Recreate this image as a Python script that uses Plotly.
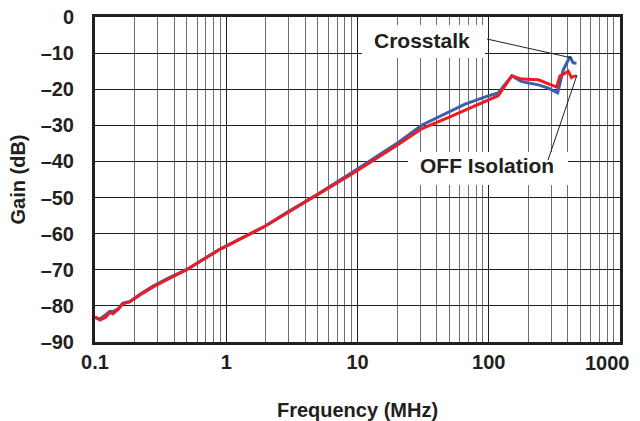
import numpy as np
import plotly.graph_objects as go

# ---- data ----
freq_red = [0.1, 0.109, 0.12, 0.13, 0.137, 0.15, 0.163, 0.184, 0.22, 0.275, 0.35, 0.5,
            0.89, 1.95, 2.93, 4.95, 9.13, 20.7, 31, 49.5, 66, 94, 118, 150, 178, 239,
            284, 329, 349, 369, 403, 427, 440, 466]
gain_red = [-83.0, -83.9, -83.2, -81.8, -82.2, -81.0, -79.4, -78.9, -77.0, -74.8, -72.8, -70.0,
            -64.4, -58.1, -54.2, -49.3, -43.4, -35.2, -30.9, -27.8, -25.8, -23.4, -21.8, -16.3,
            -17.2, -17.4, -18.4, -19.4, -16.3, -15.9, -15.0, -16.8, -16.5, -16.3]

freq_blue = [0.1, 0.109, 0.12, 0.13, 0.137, 0.15, 0.163, 0.184, 0.22, 0.275, 0.35, 0.5,
             0.89, 1.95, 2.93, 4.95, 9.13, 20.7, 31, 49.5, 66, 94, 118, 150, 178, 239,
             284, 335, 369, 415, 440, 466]
gain_blue = [-83.3, -83.6, -82.5, -81.5, -81.6, -80.8, -79.2, -78.8, -76.8, -74.6, -72.6, -69.9,
             -64.3, -58.0, -54.0, -49.1, -43.0, -34.6, -29.9, -26.2, -24.1, -22.1, -21.0, -16.3,
             -17.9, -18.8, -19.7, -21.0, -14.7, -11.0, -12.7, -12.8]

x_major = [0.1, 1, 10, 100, 1000]
x_major_text = ["0.1", "1", "10", "100", ""]   # last label drawn inset (see annotation)
x_last_label = "1000"
x_minor = [m * d for d in [0.1, 1, 10, 100] for m in range(2, 10)]
y_ticks = list(range(-90, 1, 10))
y_text = [("\u2013" + str(-v)) if v < 0 else "0" for v in y_ticks]

FONT = "Liberation Sans, Arial, sans-serif"
TXT = "#231f20"

fig = go.Figure()
fig.add_trace(go.Scatter(x=freq_blue, y=gain_blue, mode="lines",
                         line=dict(color="#3a5fab", width=3), name="Crosstalk"))
fig.add_trace(go.Scatter(x=freq_red, y=gain_red, mode="lines",
                         line=dict(color="#ec1c24", width=3), name="OFF Isolation"))

# plot-area pixel helpers for annotation placement
L, R, T, B = 95, 620, 17, 342
def px(x): return (x - L) / (R - L)
def py(y): return (B - y) / (B - T)

shapes = []
# white boxes behind labels (cover grid lines)
shapes.append(dict(type="rect", xref="paper", yref="paper", layer="above",
                   x0=px(362), x1=px(485), y0=py(58), y1=py(25),
                   fillcolor="white", line=dict(width=0)))
shapes.append(dict(type="rect", xref="paper", yref="paper", layer="above",
                   x0=px(408), x1=px(568), y0=py(185), y1=py(152),
                   fillcolor="white", line=dict(width=0)))
# leader lines
shapes.append(dict(type="line", xref="paper", yref="paper",
                   x0=px(487), y0=py(39), x1=px(572), y1=py(58),
                   line=dict(color=TXT, width=1)))
shapes.append(dict(type="line", xref="paper", yref="paper",
                   x0=px(548), y0=py(160), x1=px(577), y1=py(75),
                   line=dict(color=TXT, width=1)))

annotations = [
    dict(text="Crosstalk", xref="paper", yref="paper", x=px(422), y=py(40),
         xanchor="center", yanchor="middle", showarrow=False,
         font=dict(family=FONT, size=21, color=TXT, weight="bold")),
    dict(text="OFF Isolation", xref="paper", yref="paper", x=px(487), y=py(165.5),
         xanchor="center", yanchor="middle", showarrow=False,
         font=dict(family=FONT, size=21, color=TXT, weight="bold")),
    dict(text=x_last_label, xref="paper", yref="paper", x=px(607.5), y=py(363),
         xanchor="center", yanchor="middle", showarrow=False,
         font=dict(family=FONT, size=20, color=TXT, weight="bold")),
]

fig.update_layout(
    width=640, height=421,
    margin=dict(l=L, r=640 - R, t=T, b=421 - B),
    paper_bgcolor="white", plot_bgcolor="white",
    showlegend=False,
    shapes=shapes, annotations=annotations,
    font=dict(family=FONT, color=TXT),
)
fig.update_xaxes(
    type="log", range=[-1, 3], automargin=False,
    tickvals=x_major, ticktext=x_major_text, ticks="",
    tickfont=dict(family=FONT, size=20, color=TXT, weight="bold"),
    showgrid=True, gridcolor="#231f20", gridwidth=1,
    minor=dict(tickvals=x_minor, showgrid=True, gridcolor="#6d6e71", gridwidth=1, ticks=""),
    showline=True, linecolor="#231f20", linewidth=3, mirror=True,
    zeroline=False,
    title=dict(text="Frequency (MHz)", standoff=33,
               font=dict(family=FONT, size=20, color=TXT, weight="bold")),
)
fig.update_yaxes(
    range=[-90, 0], automargin=False, tickvals=y_ticks, ticktext=y_text, ticks="",
    ticklabelstandoff=14,
    tickfont=dict(family=FONT, size=20, color=TXT, weight="bold"),
    showgrid=True, gridcolor="#231f20", gridwidth=1,
    showline=True, linecolor="#231f20", linewidth=3, mirror=True,
    zeroline=False,
    title=dict(text="Gain (dB)", standoff=10,
               font=dict(family=FONT, size=20, color=TXT, weight="bold")),
)

fig.write_html("out.html", config={"displayModeBar": False},
               post_script="document.body.style.margin='0';")
